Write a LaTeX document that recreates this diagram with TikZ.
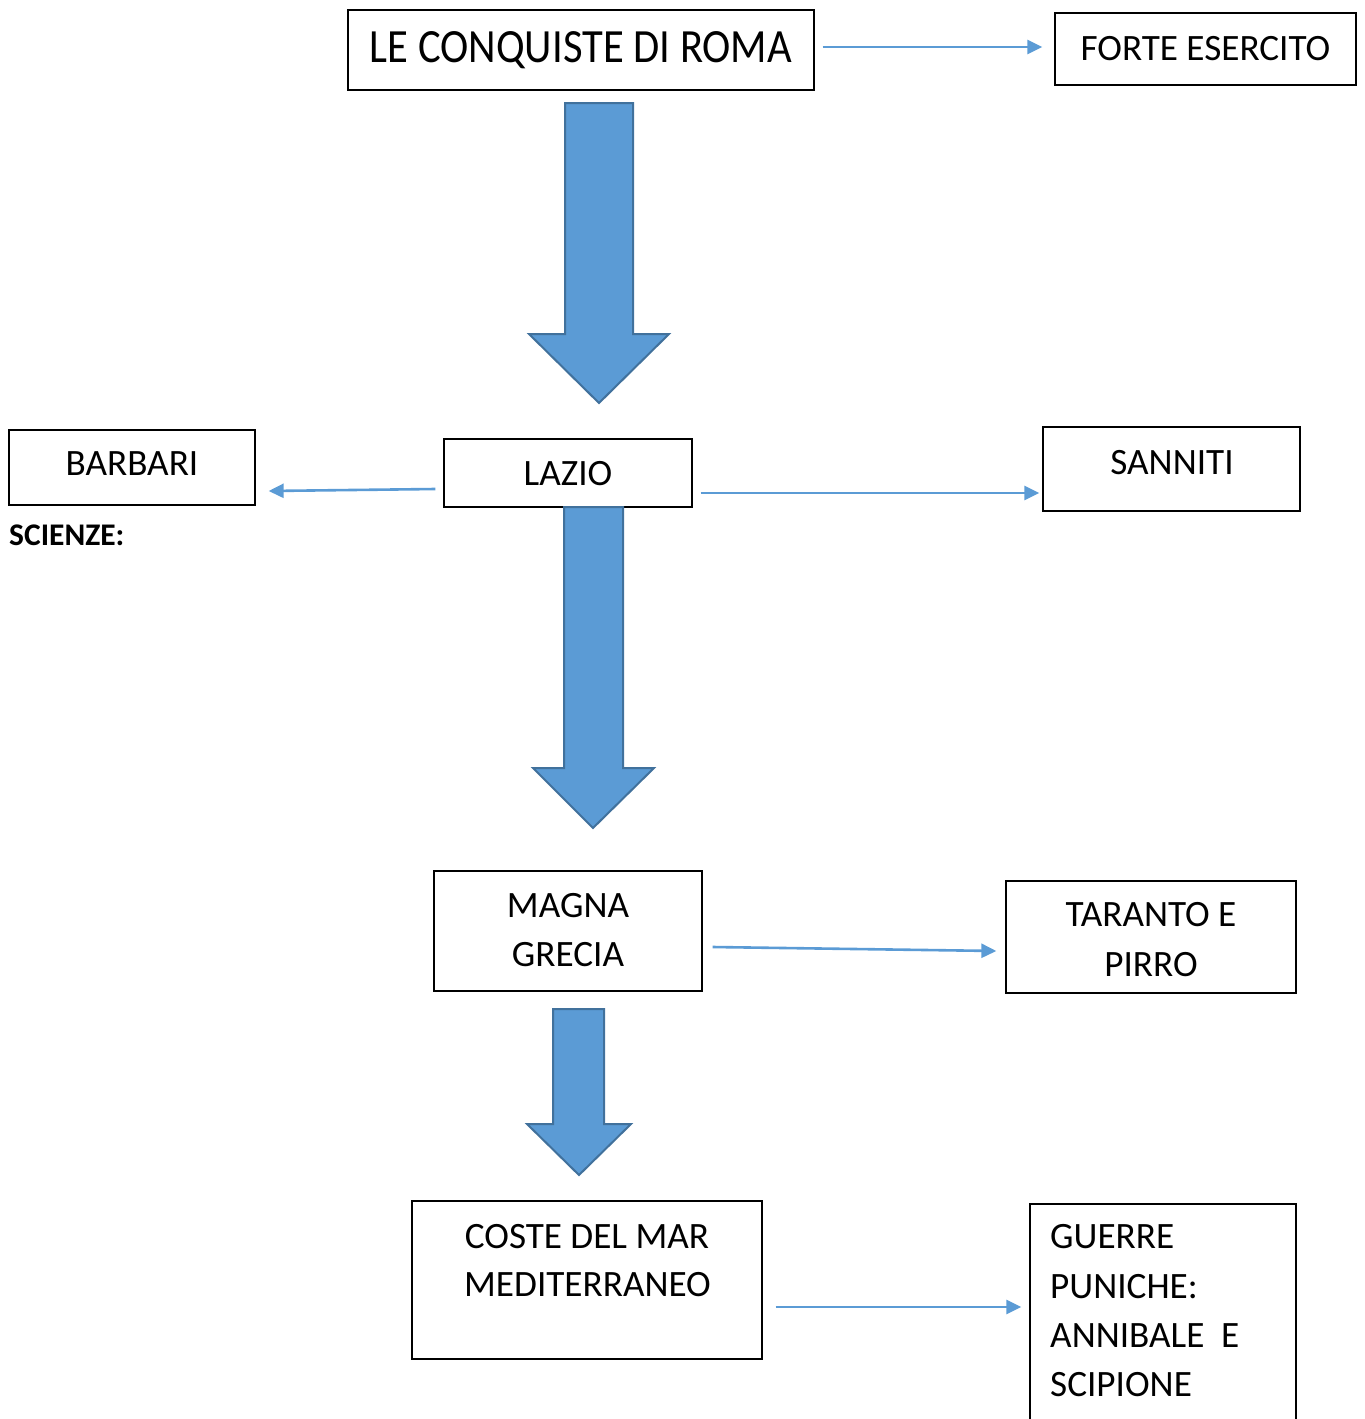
\documentclass[tikz,border=0pt]{standalone}
\usepackage{fontspec}
\setmainfont{Carlito}
\usetikzlibrary{arrows.meta,calc}
\definecolor{connblue}{HTML}{5B9BD5}
\definecolor{bigfill}{HTML}{5B9BD5}
\definecolor{bigdraw}{HTML}{41719C}
\begin{document}
\begin{tikzpicture}[x=1pt,y=-1pt,
  box/.style={draw=black,line width=1.3pt,inner sep=0pt,fill=none},
  txt/.style={inner sep=0pt,anchor=base,font=\fontsize{37.2}{44}\selectfont},
  link/.style={draw=connblue,line width=2.6pt,-{Triangle[length=15pt,width=14pt]}},
  bigarrow/.style={fill=bigfill,draw=bigdraw,line width=2pt,line join=miter}]
\useasboundingbox (0,0) rectangle (1365,1419);
\clip (0,0) rectangle (1365,1419);
% boxes
\node[box,minimum width=466pt,minimum height=80pt] (title) at (581,50) {};
\node[box,minimum width=301pt,minimum height=72pt] (forte) at (1205.5,49) {};
\node[box,minimum width=248pt,minimum height=68pt] (lazio) at (568,473) {};
\node[box,minimum width=246pt,minimum height=75pt] (barbari) at (132,467.5) {};
\node[box,minimum width=257pt,minimum height=84pt] (sanniti) at (1171.5,469) {};
\node[box,minimum width=268pt,minimum height=120pt] (magna) at (568,931) {};
\node[box,minimum width=290pt,minimum height=112pt] (taranto) at (1151,937) {};
\node[box,minimum width=350pt,minimum height=158pt] (coste) at (587,1280) {};
\node[box,minimum width=266pt,minimum height=300pt] (guerre) at (1163,1354) {};
% texts
\node[txt] (ttitle) at (581,62) {\scalebox{1}[1.12]{\fontsize{42.6}{50}\selectfont LE CONQUISTE DI ROMA}};
\node[txt] (tforte) at (1205.5,60) {FORTE ESERCITO};
\node[txt] (tlazio) at (568,485) {LAZIO};
\node[txt] (tbarbari) at (132,475) {BARBARI};
\node[txt] (tsanniti) at (1172,474) {SANNITI};
\node[txt,anchor=base west,font=\bfseries\fontsize{31.5}{36}\selectfont] (tscienze) at (9,545) {SCIENZE:};
\node[txt] (tmagna1) at (568,917) {MAGNA};
\node[txt] (tmagna2) at (568,966) {GRECIA};
\node[txt] (ttar1) at (1151,926) {TARANTO E};
\node[txt] (ttar2) at (1151,976) {PIRRO};
\node[txt] (tcoste1) at (587,1248) {COSTE DEL MAR};
\node[txt] (tcoste2) at (587.5,1296) {MEDITERRANEO};
\node[txt,anchor=base west] (tg1) at (1050,1248) {GUERRE};
\node[txt,anchor=base west] (tg2) at (1050,1298) {PUNICHE:};
\node[txt,anchor=base west] (tg3) at (1050,1347) {ANNIBALE~~E};
\node[txt,anchor=base west] (tg4) at (1050,1396) {SCIPIONE};
% thin connectors
\draw[link] ($(title.east)+(8,-3)$) -- ($(forte.west)+(-12,-2)$);
\draw[link] ($(lazio.west)+(-8,16)$) -- ($(barbari.east)+(13,23.5)$);
\draw[link] ($(lazio.east)+(8,20)$) -- ($(sanniti.west)+(-3,24)$);
\draw[link] ($(magna.east)+(10,16)$) -- ($(taranto.west)+(-9,14)$);
\draw[link] ($(coste.east)+(13,27)$) -- ($(guerre.west)+(-8,-47)$);
% big block arrows
\path[bigarrow] (565,103) -- (633,103) -- (633,334) -- (669,334) -- (599,403) -- (529,334) -- (565,334) -- cycle;
\path[bigarrow] (564,507) -- (623,507) -- (623,768) -- (654,768) -- (593,828) -- (533,768) -- (564,768) -- cycle;
\path[bigarrow] (553,1009) -- (604,1009) -- (604,1124) -- (631,1124) -- (579,1175) -- (527,1124) -- (553,1124) -- cycle;
\end{tikzpicture}
\end{document}
